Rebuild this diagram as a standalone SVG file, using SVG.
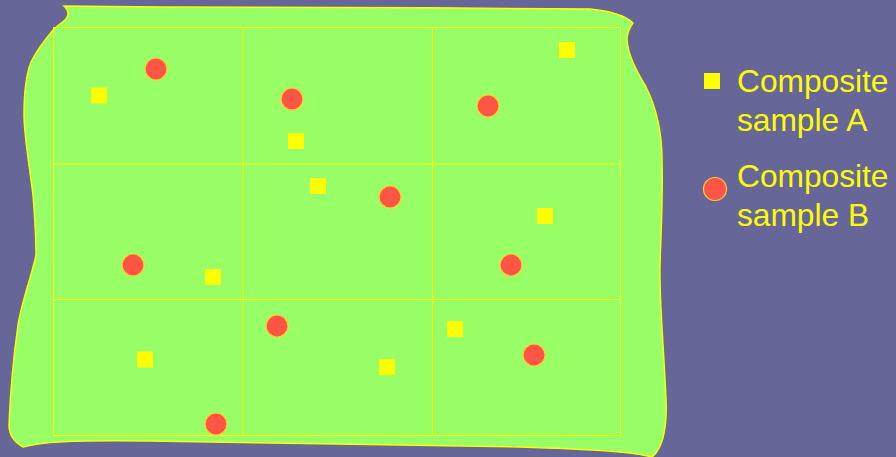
<svg xmlns="http://www.w3.org/2000/svg" width="896" height="457" viewBox="0 0 896 457">
<style>
.sq{fill:#FFFF00}
.ci{fill:#FF5544;stroke:#FFCC33;stroke-width:1.2}
.grid{fill:none;stroke:#FFFF00;stroke-width:1}
.lbl{font-family:"Liberation Sans",Arial,sans-serif;font-size:31.7px;fill:#FFFF00}
</style>
<rect width="896" height="457" fill="#666699"/>
<g id="field">
<path d="M64,6 C68,10 70,14 66,19 C62,23 58,25 54,29 C48,36 38,48 31,62 C26,75 24,95 24,115 C24,135 30,170 33,195 C35,220 36,240 36,255 C32,275 22,300 18,325 C13,360 10,400 9,425 C9,437 16,443 23,447 C40,442 70,440 150,441 C260,443 420,445 520,447 C580,449 630,451 652,457 C664,447 667,425 666,400 C664,350 659,300 660,265 C661,230 663,200 662,160 C662,130 655,105 646,87 C636,70 628,55 627,40 C627,32 630,27 633,23 C625,15 610,11 590,9 C450,7 250,8 160,7 Z" fill="#99FF66" stroke="#FFFF00" stroke-width="1.5"/>
</g>
<g id="grid">
<rect class="grid" x="53.5" y="27.5" width="567" height="408"/>
<line class="grid" x1="243" y1="27.5" x2="243" y2="435.5"/>
<line class="grid" x1="432.5" y1="27.5" x2="432.5" y2="435.5"/>
<line class="grid" x1="53.5" y1="164" x2="620.5" y2="164"/>
<line class="grid" x1="53.5" y1="299.5" x2="620.5" y2="299.5"/>
</g>
<g id="samplesA">
<rect class="sq" x="91" y="87.5" width="16" height="16"/>
<rect class="sq" x="559" y="42" width="16" height="16"/>
<rect class="sq" x="288" y="133" width="16" height="16"/>
<rect class="sq" x="310" y="178" width="16" height="16"/>
<rect class="sq" x="537" y="208" width="16" height="16"/>
<rect class="sq" x="205" y="269" width="16" height="16"/>
<rect class="sq" x="137" y="351.5" width="16" height="16"/>
<rect class="sq" x="447" y="321" width="16" height="16"/>
<rect class="sq" x="379" y="359" width="16" height="16"/>
</g>
<g id="samplesB">
<circle class="ci" cx="156" cy="69" r="11"/>
<circle class="ci" cx="292" cy="99" r="11"/>
<circle class="ci" cx="488" cy="106" r="11"/>
<circle class="ci" cx="390" cy="197" r="11"/>
<circle class="ci" cx="133" cy="265" r="11"/>
<circle class="ci" cx="511" cy="265" r="11"/>
<circle class="ci" cx="277" cy="326" r="11"/>
<circle class="ci" cx="534" cy="355" r="11"/>
<circle class="ci" cx="216" cy="424" r="11"/>
</g>
<g id="legendA">
<rect class="sq" x="704" y="73" width="16" height="16"/>
<text class="lbl" x="737" y="92">Composite</text>
<text class="lbl" x="737" y="131">sample A</text>
</g>
<g id="legendB">
<circle class="ci" cx="715" cy="189" r="11.5"/>
<text class="lbl" x="737" y="187">Composite</text>
<text class="lbl" x="737" y="226">sample B</text>
</g>
</svg>
